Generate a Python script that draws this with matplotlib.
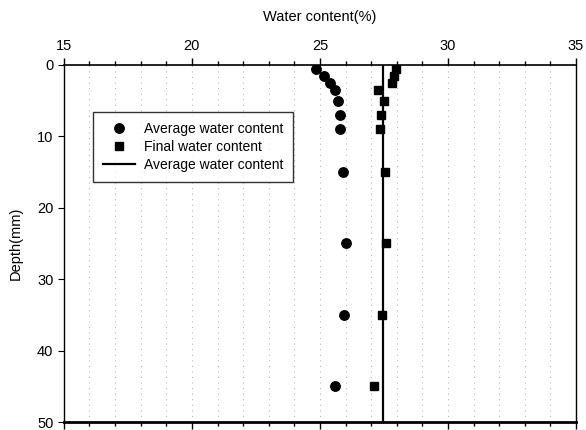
# Water content profile against depth

import numpy as np
import matplotlib.pyplot as plt
from matplotlib.ticker import MultipleLocator

plt.rcParams['font.family'] = ['Liberation Sans', 'DejaVu Sans']

# =============================================================================
#                                     Data
# =============================================================================
depth = [0.5, 1.5, 2.5, 3.5, 5, 7, 9, 15, 25, 35, 45]
avg_wc = [24.83, 25.17, 25.39, 25.59, 25.69, 25.77, 25.8, 25.9, 26.02, 25.95, 25.57]
final_wc = [27.96, 27.9, 27.8, 27.28, 27.49, 27.4, 27.33, 27.54, 27.56, 27.43, 27.11]
mean_wc = 27.47
line_depth = [0, 50]

# =============================================================================
#                                     Plot
# =============================================================================
fig = plt.figure(figsize=(5.86, 4.30), dpi=100)
ax = fig.add_axes([0.109, 0.0186, 0.874, 0.8304])

ax.plot(avg_wc, depth, 'o', color='black', markersize=6.8, label='Average water content')
ax.plot(final_wc, depth, 's', color='black', markersize=6.4, label='Final water content')
ax.plot([mean_wc, mean_wc], line_depth, '-', color='black', linewidth=1.6,
        label='Average water content')

ax.set_xlim(15, 35)
ax.set_ylim(50, 0)
ax.xaxis.set_major_locator(MultipleLocator(5))
ax.xaxis.set_minor_locator(MultipleLocator(1))
ax.yaxis.set_major_locator(MultipleLocator(10))
ax.xaxis.tick_top()
ax.xaxis.set_label_position('top')
ax.tick_params(axis='x', which='both', top=True, bottom=True, labelbottom=False,
               direction='out', labelsize=10.5, width=1, color='black')
ax.tick_params(axis='x', which='major', length=5)
ax.tick_params(axis='x', which='minor', length=3)
ax.tick_params(axis='y', which='major', length=4, direction='out', labelsize=10.5)

ax.grid(True, which='both', axis='x', linestyle=(0, (1, 4)), color='#bbbbbb', linewidth=0.8)
ax.set_axisbelow(True)

ax.spines['top'].set_linewidth(1.2)
ax.spines['left'].set_linewidth(1.0)
ax.spines['bottom'].set_linewidth(2.0)
ax.spines['right'].set_linewidth(1.0)

ax.set_xlabel('Water content(%)', fontsize=10.5, labelpad=13)
ax.set_ylabel('Depth(mm)', fontsize=10.5, labelpad=10)

leg = ax.legend(loc='upper left', bbox_to_anchor=(0.043, 0.888), fontsize=10,
                frameon=True, fancybox=False, edgecolor='black',
                handlelength=2.3, borderpad=0.75, labelspacing=0.28, handletextpad=0.6)
leg.get_frame().set_linewidth(1.0)

fig.savefig('out.png', dpi=100)
